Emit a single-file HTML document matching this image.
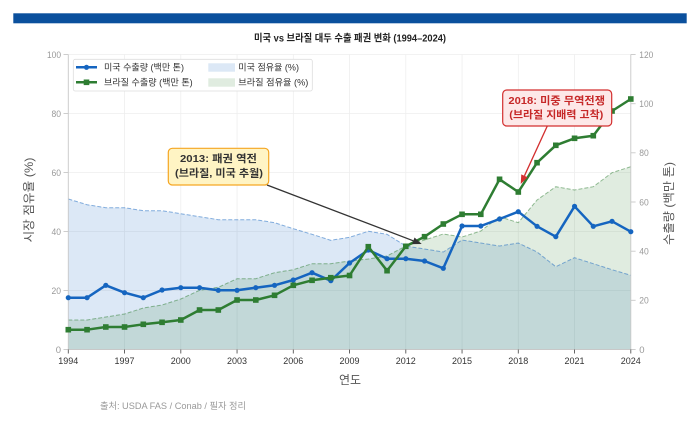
<!DOCTYPE html>
<html><head><meta charset="utf-8"><style>
html,body{margin:0;padding:0;background:#fff;}
svg{display:block;font-family:"Liberation Sans","Noto Sans CJK KR",sans-serif;}
</style></head><body>
<svg width="700" height="425" viewBox="0 0 700 425" xmlns="http://www.w3.org/2000/svg">
<defs>
<marker id="mc" viewBox="0 0 6 6" refX="3" refY="3" markerWidth="6" markerHeight="6" markerUnits="userSpaceOnUse"><circle cx="3" cy="3" r="2.6" fill="#1565c0"/></marker>
<marker id="ms" viewBox="0 0 6 6" refX="3" refY="3" markerWidth="6" markerHeight="6" markerUnits="userSpaceOnUse"><rect x="0.2" y="0.2" width="5.6" height="5.6" fill="#2e7d32"/></marker>
</defs>
<rect x="0" y="0" width="700" height="425" fill="#fff"/>
<rect x="13.3" y="13.3" width="673.4" height="10" fill="#0b509d"/>
<text x="350" y="41.5" text-anchor="middle" font-size="10" font-weight="bold" fill="#222" textLength="192" lengthAdjust="spacingAndGlyphs">미국 vs 브라질 대두 수출 패권 변화 (1994–2024)</text>

<!-- grid -->
<g stroke="#eeeeee" stroke-width="0.8">
<line x1="68.3" y1="54.5" x2="630.8" y2="54.5"/>
<line x1="68.3" y1="113.5" x2="630.8" y2="113.5"/>
<line x1="68.3" y1="172.5" x2="630.8" y2="172.5"/>
<line x1="68.3" y1="231.5" x2="630.8" y2="231.5"/>
<line x1="68.3" y1="290.5" x2="630.8" y2="290.5"/>
<line x1="124.55" y1="54.5" x2="124.55" y2="349.5"/>
<line x1="180.8" y1="54.5" x2="180.8" y2="349.5"/>
<line x1="237.05" y1="54.5" x2="237.05" y2="349.5"/>
<line x1="293.3" y1="54.5" x2="293.3" y2="349.5"/>
<line x1="349.55" y1="54.5" x2="349.55" y2="349.5"/>
<line x1="405.8" y1="54.5" x2="405.8" y2="349.5"/>
<line x1="462.05" y1="54.5" x2="462.05" y2="349.5"/>
<line x1="518.3" y1="54.5" x2="518.3" y2="349.5"/>
<line x1="574.55" y1="54.5" x2="574.55" y2="349.5"/>
</g>

<!-- fills -->
<polygon fill="#1565c0" fill-opacity="0.15" points="68.3,349.5 68.3,199 87.05,204.7 105.8,207.7 124.55,207.7 143.3,210.7 162.05,210.7 180.8,213.7 199.55,216.7 218.3,219.7 237.05,219.7 255.8,219.7 274.55,222.7 293.3,228.7 312.05,234.3 330.8,240.3 349.55,237.3 368.3,231.3 387.05,234.3 405.8,246 424.55,249 443.3,252 462.05,240 480.8,243 499.55,246 518.3,243 537.05,252 555.8,266.7 574.55,257.7 593.3,263.7 612.05,269.7 630.8,275.3 630.8,349.5"/>
<polygon fill="#2e7d32" fill-opacity="0.15" points="68.3,349.5 68.3,320 87.05,320 105.8,317 124.55,314 143.3,308 162.05,305 180.8,299 199.55,290.3 218.3,287.3 237.05,278.7 255.8,278.7 274.55,272.7 293.3,269.7 312.05,263.7 330.8,263.7 349.55,261 368.3,259 387.05,256 405.8,246 424.55,240 443.3,234 462.05,237 480.8,231 499.55,216.7 518.3,222.7 537.05,200 555.8,186.7 574.55,190 593.3,186.7 612.05,172.7 630.8,166.7 630.8,349.5"/>
<polyline fill="none" stroke="#1565c0" stroke-opacity="0.5" stroke-width="1" stroke-dasharray="4,2" points="68.3,199 87.05,204.7 105.8,207.7 124.55,207.7 143.3,210.7 162.05,210.7 180.8,213.7 199.55,216.7 218.3,219.7 237.05,219.7 255.8,219.7 274.55,222.7 293.3,228.7 312.05,234.3 330.8,240.3 349.55,237.3 368.3,231.3 387.05,234.3 405.8,246 424.55,249 443.3,252 462.05,240 480.8,243 499.55,246 518.3,243 537.05,252 555.8,266.7 574.55,257.7 593.3,263.7 612.05,269.7 630.8,275.3"/>
<polyline fill="none" stroke="#2e7d32" stroke-opacity="0.5" stroke-width="1" stroke-dasharray="4,2" points="68.3,320 87.05,320 105.8,317 124.55,314 143.3,308 162.05,305 180.8,299 199.55,290.3 218.3,287.3 237.05,278.7 255.8,278.7 274.55,272.7 293.3,269.7 312.05,263.7 330.8,263.7 349.55,261 368.3,259 387.05,256 405.8,246 424.55,240 443.3,234 462.05,237 480.8,231 499.55,216.7 518.3,222.7 537.05,200 555.8,186.7 574.55,190 593.3,186.7 612.05,172.7 630.8,166.7"/>

<!-- spines & ticks -->
<g stroke="#c8c8c8" stroke-width="0.9">
<line x1="68.3" y1="54.5" x2="68.3" y2="349.5"/>
<line x1="630.8" y1="54.5" x2="630.8" y2="349.5"/>
<line x1="68.3" y1="349.5" x2="630.8" y2="349.5"/>
<line x1="63.5" y1="54.5" x2="68.3" y2="54.5"/>
<line x1="63.5" y1="113.5" x2="68.3" y2="113.5"/>
<line x1="63.5" y1="172.5" x2="68.3" y2="172.5"/>
<line x1="63.5" y1="231.5" x2="68.3" y2="231.5"/>
<line x1="63.5" y1="290.5" x2="68.3" y2="290.5"/>
<line x1="63.5" y1="349.5" x2="68.3" y2="349.5"/>
<line x1="630.8" y1="54.5" x2="635.6" y2="54.5"/>
<line x1="630.8" y1="103.7" x2="635.6" y2="103.7"/>
<line x1="630.8" y1="152.8" x2="635.6" y2="152.8"/>
<line x1="630.8" y1="202" x2="635.6" y2="202"/>
<line x1="630.8" y1="251.2" x2="635.6" y2="251.2"/>
<line x1="630.8" y1="300.3" x2="635.6" y2="300.3"/>
<line x1="630.8" y1="349.5" x2="635.6" y2="349.5"/>
</g>
<g stroke="#555" stroke-width="0.9">
<line x1="68.3" y1="349.5" x2="68.3" y2="353.5"/><line x1="124.55" y1="349.5" x2="124.55" y2="353.5"/><line x1="180.8" y1="349.5" x2="180.8" y2="353.5"/><line x1="237.05" y1="349.5" x2="237.05" y2="353.5"/><line x1="293.3" y1="349.5" x2="293.3" y2="353.5"/><line x1="349.55" y1="349.5" x2="349.55" y2="353.5"/><line x1="405.8" y1="349.5" x2="405.8" y2="353.5"/><line x1="462.05" y1="349.5" x2="462.05" y2="353.5"/><line x1="518.3" y1="349.5" x2="518.3" y2="353.5"/><line x1="574.55" y1="349.5" x2="574.55" y2="353.5"/><line x1="630.8" y1="349.5" x2="630.8" y2="353.5"/>
</g>

<!-- tick labels -->
<g font-size="9.5" fill="#999" text-anchor="end">
<text x="61" y="57.8" textLength="14" lengthAdjust="spacingAndGlyphs">100</text>
<text x="61" y="116.8" textLength="9.5" lengthAdjust="spacingAndGlyphs">80</text>
<text x="61" y="175.8" textLength="9.5" lengthAdjust="spacingAndGlyphs">60</text>
<text x="61" y="234.8" textLength="9.5" lengthAdjust="spacingAndGlyphs">40</text>
<text x="61" y="293.8" textLength="9.5" lengthAdjust="spacingAndGlyphs">20</text>
<text x="61" y="352.8">0</text>
</g>
<g font-size="9.5" fill="#999" text-anchor="start">
<text x="639.3" y="57.8" textLength="14" lengthAdjust="spacingAndGlyphs">120</text>
<text x="639.3" y="107" textLength="14" lengthAdjust="spacingAndGlyphs">100</text>
<text x="639.3" y="156.1" textLength="9.5" lengthAdjust="spacingAndGlyphs">80</text>
<text x="639.3" y="205.3" textLength="9.5" lengthAdjust="spacingAndGlyphs">60</text>
<text x="639.3" y="254.5" textLength="9.5" lengthAdjust="spacingAndGlyphs">40</text>
<text x="639.3" y="303.6" textLength="9.5" lengthAdjust="spacingAndGlyphs">20</text>
<text x="639.3" y="352.8">0</text>
</g>
<g font-size="9.5" fill="#333" text-anchor="middle">
<text x="68.3" y="363.8" textLength="20" lengthAdjust="spacingAndGlyphs">1994</text>
<text x="124.55" y="363.8" textLength="20" lengthAdjust="spacingAndGlyphs">1997</text>
<text x="180.8" y="363.8" textLength="20" lengthAdjust="spacingAndGlyphs">2000</text>
<text x="237.05" y="363.8" textLength="20" lengthAdjust="spacingAndGlyphs">2003</text>
<text x="293.3" y="363.8" textLength="20" lengthAdjust="spacingAndGlyphs">2006</text>
<text x="349.55" y="363.8" textLength="20" lengthAdjust="spacingAndGlyphs">2009</text>
<text x="405.8" y="363.8" textLength="20" lengthAdjust="spacingAndGlyphs">2012</text>
<text x="462.05" y="363.8" textLength="20" lengthAdjust="spacingAndGlyphs">2015</text>
<text x="518.3" y="363.8" textLength="20" lengthAdjust="spacingAndGlyphs">2018</text>
<text x="574.55" y="363.8" textLength="20" lengthAdjust="spacingAndGlyphs">2021</text>
<text x="630.8" y="363.8" textLength="20" lengthAdjust="spacingAndGlyphs">2024</text>
</g>

<!-- axis labels -->
<text x="350" y="384" text-anchor="middle" font-size="12" fill="#555">연도</text>
<text transform="translate(33,200) rotate(-90)" text-anchor="middle" font-size="12" fill="#555" textLength="85" lengthAdjust="spacingAndGlyphs">시장 점유율 (%)</text>
<text transform="translate(673,203.5) rotate(-90)" text-anchor="middle" font-size="12" fill="#555" textLength="83" lengthAdjust="spacingAndGlyphs">수출량 (백만 톤)</text>

<!-- series -->
<polyline fill="none" stroke="#1565c0" stroke-width="2.5" stroke-linejoin="round" marker-start="url(#mc)" marker-mid="url(#mc)" marker-end="url(#mc)" points="68.3,297.7 87.05,297.7 105.8,285.3 124.55,292.7 143.3,297.7 162.05,290 180.8,287.7 199.55,287.7 218.3,290.3 237.05,290.3 255.8,287.7 274.55,285.3 293.3,280 312.05,272.7 330.8,280.7 349.55,263 368.3,250 387.05,258.7 405.8,258.7 424.55,261 443.3,268.3 462.05,226 480.8,226 499.55,219 518.3,211.7 537.05,226.3 555.8,236.7 574.55,206.3 593.3,226.3 612.05,221.3 630.8,231.7"/>
<polyline fill="none" stroke="#2e7d32" stroke-width="2.5" stroke-linejoin="round" marker-start="url(#ms)" marker-mid="url(#ms)" marker-end="url(#ms)" points="68.3,329.7 87.05,329.7 105.8,327 124.55,327 143.3,324.3 162.05,322.3 180.8,320 199.55,310 218.3,310 237.05,300 255.8,300 274.55,295.3 293.3,285.3 312.05,280.3 330.8,277.7 349.55,275.5 368.3,246.7 387.05,270.7 405.8,246.3 424.55,236.7 443.3,224 462.05,214.3 480.8,214.3 499.55,179.3 518.3,192 537.05,162.7 555.8,145.3 574.55,138.3 593.3,135.7 612.05,111 630.8,99"/>

<!-- legend -->
<rect x="73.3" y="59.3" width="239" height="31.7" rx="2" fill="#fff" fill-opacity="0.9" stroke="#dddddd" stroke-width="0.8"/>
<line x1="76" y1="67.3" x2="97" y2="67.3" stroke="#1565c0" stroke-width="2.5"/>
<circle cx="86.5" cy="67.3" r="2.6" fill="#1565c0"/>
<line x1="76" y1="82.3" x2="97" y2="82.3" stroke="#2e7d32" stroke-width="2.5"/>
<rect x="83.7" y="79.5" width="5.6" height="5.6" fill="#2e7d32"/>
<rect x="208.3" y="63.3" width="26.7" height="8.4" fill="#1565c0" fill-opacity="0.15"/>
<rect x="208.3" y="78.3" width="26.7" height="8.4" fill="#2e7d32" fill-opacity="0.15"/>
<g font-size="9" fill="#333">
<text x="104" y="70.5" textLength="80" lengthAdjust="spacingAndGlyphs">미국 수출량 (백만 톤)</text>
<text x="104" y="85.5" textLength="88.7" lengthAdjust="spacingAndGlyphs">브라질 수출량 (백만 톤)</text>
<text x="238.3" y="70.5" textLength="60.7" lengthAdjust="spacingAndGlyphs">미국 점유율 (%)</text>
<text x="238.3" y="85.5" textLength="70" lengthAdjust="spacingAndGlyphs">브라질 점유율 (%)</text>
</g>

<!-- annotation 1 -->
<line x1="267" y1="185" x2="413.3" y2="240.8" stroke="#333" stroke-width="1.3"/>
<polygon points="421.7,244 412.05,244.07 414.55,237.53" fill="#333"/>
<rect x="168.3" y="148.3" width="100.4" height="36.7" rx="4" fill="#fff4c4" stroke="#f5a623" stroke-width="1.2"/>
<g font-size="10.5" font-weight="bold" fill="#333" text-anchor="middle">
<text x="218.5" y="162" textLength="77" lengthAdjust="spacingAndGlyphs">2013: 패권 역전</text>
<text x="219" y="176.5" textLength="88" lengthAdjust="spacingAndGlyphs">(브라질, 미국 추월)</text>
</g>

<!-- annotation 2 -->
<line x1="547.3" y1="126" x2="524.45" y2="175.8" stroke="#d32f2f" stroke-width="1.3"/>
<polygon points="520.7,184 521.27,174.34 527.63,177.26" fill="#d32f2f"/>
<rect x="502.7" y="90" width="109" height="36" rx="4" fill="#fde8e8" stroke="#d32f2f" stroke-width="1.2"/>
<g font-size="10.5" font-weight="bold" fill="#c62828" text-anchor="middle">
<text x="556.7" y="103.8" textLength="96.7" lengthAdjust="spacingAndGlyphs">2018: 미중 무역전쟁</text>
<text x="556.3" y="117.8" textLength="94" lengthAdjust="spacingAndGlyphs">(브라질 지배력 고착)</text>
</g>

<!-- source -->
<text x="100" y="409" font-size="9" fill="#999" textLength="146" lengthAdjust="spacingAndGlyphs">출처: USDA FAS / Conab / 필자 정리</text>
</svg>
</body></html>
